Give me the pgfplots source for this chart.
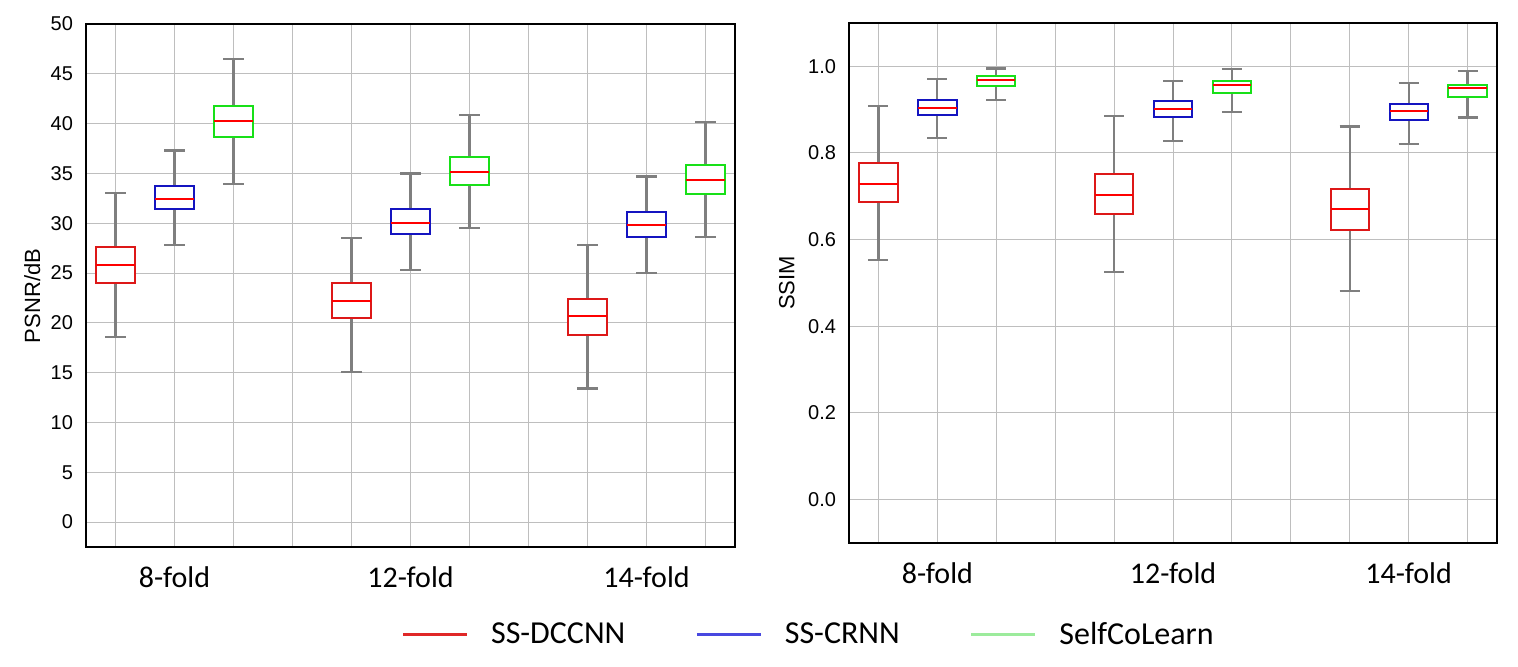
\documentclass[border=0pt]{standalone}
\usepackage{fontspec}
\setmainfont{Carlito}
\newfontfamily\arial{Liberation Sans}
\usepackage{pgfplots}
\pgfplotsset{compat=1.18}
\usepgfplotslibrary{statistics}

\definecolor{bxred}{HTML}{DD1818}
\definecolor{bxblue}{HTML}{1414C0}
\definecolor{bxgreen}{HTML}{18E018}
\definecolor{whisk}{HTML}{7F7F7F}
\definecolor{gridc}{HTML}{BEBEBE}
\definecolor{legred}{HTML}{E02828}
\definecolor{legblue}{HTML}{4848E0}
\definecolor{leggreen}{HTML}{9CEB9C}

% one prepared box: colour, position, low whisker, q1, median, q3, high whisker
\newcommand\bx[7]{%
  \addplot[#1, line width=1pt, fill=white, forget plot,
    boxplot/draw direction=y,
    boxplot prepared={draw position=#2, lower whisker=#3, lower quartile=#4,
      median=#5, upper quartile=#6, upper whisker=#7,
      box extend=0.65, whisker extend=0.34,
      every whisker/.style={draw=whisk, line width=1.1pt},
      every median/.style={draw=red, line width=1pt}}]
  coordinates {};}

\pgfplotsset{
  panel/.style={
    scale only axis, anchor=south west,
    xmin=0.5, xmax=11.5,
    xtick={1,...,11},
    xticklabels={{},8-fold,{},{},{},12-fold,{},{},{},14-fold,{}},
    grid=major, major grid style={gridc, line width=0.5pt},
    axis line style={line width=1pt}, major tick length=0pt,
    x tick label style={font=\fontsize{15}{18}\selectfont, yshift=-6.5pt},
    y tick label style={font=\arial\fontsize{10}{12}\selectfont, xshift=-3pt},
    /pgf/number format/assume math mode=true,
  }
}

\begin{document}
\begin{tikzpicture}
\path[use as bounding box] (0,0) rectangle (759pt,333.5pt);

\begin{axis}[panel, at={(43pt,60pt)}, width=324.5pt, height=261.5pt,
  ymin=-2.5, ymax=50, ytick={0,5,...,50},
  ylabel={PSNR/dB},
  every axis y label/.style={at={(axis description cs:-0.083,0.48)}, rotate=90, anchor=center,
    font=\arial\fontsize{11}{13}\selectfont},
  legend columns=3,
  legend style={at={(axis description cs:1.115,-0.168)}, anchor=center, draw=none,
    font=\fontsize{16}{19}\selectfont,
    /tikz/every even column/.append style={column sep=33pt}},
  legend image code/.code={\draw[#1, line width=1.6pt] (0pt,0pt) -- (32pt,0pt);
    \path[draw=none] (0pt,0pt) -- (42pt,0pt);}]
\bx{bxred}{1}{18.6}{24.0}{25.8}{27.6}{33.0}
\bx{bxblue}{2}{27.8}{31.4}{32.4}{33.7}{37.3}
\bx{bxgreen}{3}{33.9}{38.7}{40.3}{41.8}{46.5}
\bx{bxred}{5}{15.1}{20.45}{22.2}{24.05}{28.5}
\bx{bxblue}{6}{25.3}{28.9}{30.05}{31.4}{35.0}
\bx{bxgreen}{7}{29.5}{33.8}{35.1}{36.6}{40.9}
\bx{bxred}{9}{13.4}{18.8}{20.7}{22.4}{27.8}
\bx{bxblue}{10}{25.0}{28.6}{29.8}{31.1}{34.7}
\bx{bxgreen}{11}{28.6}{32.9}{34.3}{35.8}{40.2}
\addlegendimage{legred}\addlegendentry{SS-DCCNN}
\addlegendimage{legblue}\addlegendentry{SS-CRNN}
\addlegendimage{leggreen}\addlegendentry{SelfCoLearn}
\end{axis}

\begin{axis}[panel, at={(424.5pt,62pt)}, width=324pt, height=260pt,
  ymin=-0.1, ymax=1.1, ytick={0,0.2,0.4,0.6,0.8,1.0},
  yticklabel style={/pgf/number format/.cd, fixed, fixed zerofill, precision=1},
  ylabel={SSIM},
  every axis y label/.style={at={(axis description cs:-0.096,0.5)}, rotate=90, anchor=center,
    font=\arial\fontsize{11}{13}\selectfont}]
\bx{bxred}{1}{0.553}{0.687}{0.728}{0.776}{0.908}
\bx{bxblue}{2}{0.834}{0.887}{0.903}{0.922}{0.970}
\bx{bxgreen}{3}{0.922}{0.954}{0.968}{0.977}{0.995}
\bx{bxred}{5}{0.525}{0.659}{0.702}{0.751}{0.885}
\bx{bxblue}{6}{0.827}{0.882}{0.901}{0.919}{0.967}
\bx{bxgreen}{7}{0.894}{0.938}{0.956}{0.965}{0.993}
\bx{bxred}{9}{0.481}{0.622}{0.670}{0.717}{0.861}
\bx{bxblue}{10}{0.820}{0.877}{0.896}{0.914}{0.962}
\bx{bxgreen}{11}{0.882}{0.929}{0.949}{0.958}{0.990}
\end{axis}
\end{tikzpicture}
\end{document}
